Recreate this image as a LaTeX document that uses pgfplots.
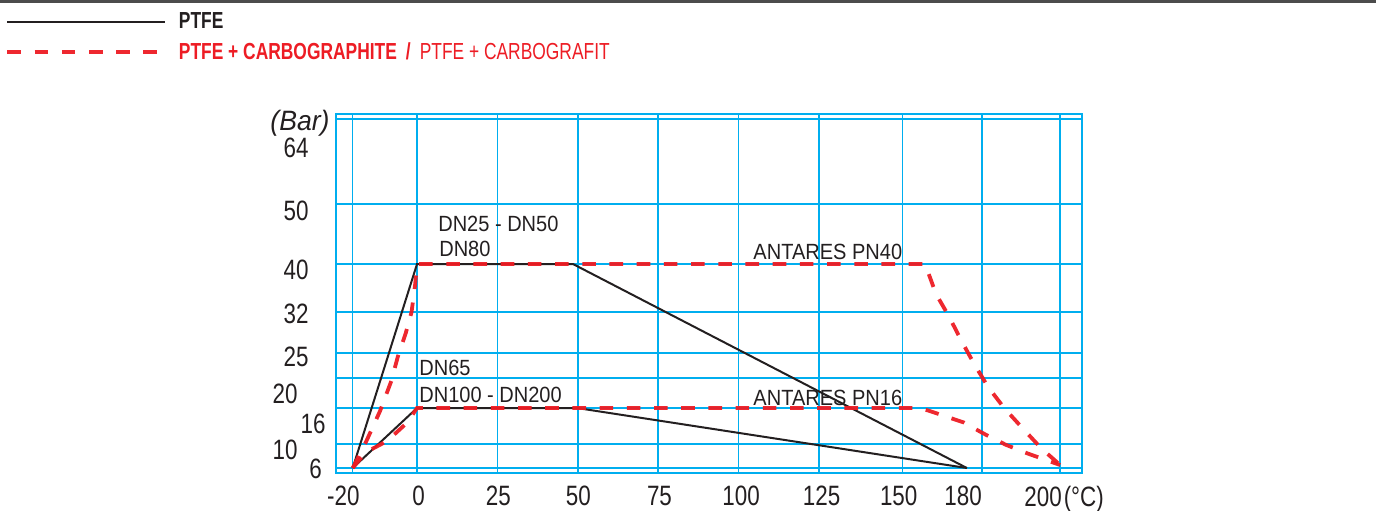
\documentclass[border=0pt]{standalone}
\usepackage{pgfplots}
\pgfplotsset{compat=1.18}
\usepackage{fontspec}
\setmainfont{Liberation Sans}
\newfontfamily\tickf[FakeStretch=0.8]{Liberation Sans}
\newfontfamily\annf[FakeStretch=0.91]{Liberation Sans}
\newfontfamily\barf[FakeStretch=0.95]{Liberation Sans}
\newfontfamily\legf[FakeStretch=0.75]{Liberation Sans}
\definecolor{gridc}{RGB}{0,174,239}
\definecolor{redc}{RGB}{237,28,36}
\definecolor{blk}{RGB}{35,31,32}
\begin{document}
\begin{tikzpicture}
\useasboundingbox (0,0) rectangle (688pt,255pt);
\draw[line width=1.4pt, color=black!70] (0,254.2pt) -- (688pt,254.2pt);
\begin{axis}[
  at={(168pt,18.5pt)}, anchor=south west,
  scale only axis, width=373pt, height=179.5pt,
  xmin=-25.2, xmax=206.8, ymin=5.17, ymax=65,
  clip=false,
  axis line style={draw=gridc, line width=0.75pt},
  major tick length=0pt,
  tick style={draw=none},
  xtick={-22.9,0.5,25.3,50.2,75.4,100.8,125.8,149.8,169.8,194.7},
  xticklabels={-20,0,25,50,75,100,125,150,180,{200\rlap{\kern1pt(°C)}}},
  ytick={5.83,9,13.33,18.33,24.5,31.67,39,48.83,59.33},
  yticklabels={{6\kern-8pt},{10\kern5.5pt},{16\kern-8.5pt},{20\kern5.5pt},25,32,40,50,64},
  extra x ticks={-20,0,25,50,75,100,125,151,175.7,200},
  extra x tick labels={},
  extra x tick style={grid=major, major tick length=0pt},
  extra y ticks={6,10,16,21,25.2,32,40,50,64.2},
  extra y tick labels={},
  extra y tick style={grid=major, major tick length=0pt},
  major grid style={draw=gridc, line width=0.75pt},
  xticklabel style={anchor=north, inner sep=0pt, yshift=-6.5pt, font=\tickf\fontsize{14}{16}\selectfont, text=blk},
  yticklabel style={anchor=east, inner sep=0pt, xshift=-13.5pt, font=\tickf\fontsize{14}{16}\selectfont, text=blk},
  legend cell align=left,
  legend image code/.code={\draw[#1] (0pt,0pt) -- (79pt,0pt);},
  legend style={at={(-0.4435,1.284)}, anchor=north west, draw=none, fill=none,
    inner sep=0pt, row sep=5.4pt, nodes={inner sep=0pt},
    font=\legf\fontsize{11.6}{13.5}\selectfont,
    /tikz/every odd column/.append style={column sep=5.8pt}},
]
% PTFE DN25-DN80
\addplot[draw=blk, line width=1pt] coordinates {(-20,6) (0,40) (48.5,40) (171,6)};
\addlegendentry{\textcolor{blk}{\textbf{PTFE}}}
% PTFE DN65-DN200
\addplot[draw=blk, line width=1pt, forget plot] coordinates {(-20,6) (0,16) (49.8,16) (171,6)};
% PTFE + carbographite PN40
\addplot[draw=redc, line width=1.9pt, dash pattern=on 6.8pt off 6.8pt, opacity=0.95] coordinates {
  (-20,6) (-16,10.2) (-11.5,15.5) (-8,20.5) (-6,24.5) (-3.5,28.5) (-1.7,32) (-0.6,36.5) (0,40)
  (158,40) (161.4,35) (165.5,31.2) (169.2,27.3) (173.3,23.3) (177.6,19.5) (182.6,16) (188.2,12.7) (194.1,9.3) (200,6.5)};
\addlegendentry{\textcolor{redc}{\textbf{PTFE + CARBOGRAPHITE}\hspace{4.5pt}\textbf{/}\hspace{4.5pt}PTFE + CARBOGRAFIT}}
% PTFE + carbographite PN16
\addplot[draw=redc, line width=1.9pt, dash pattern=on 6.8pt off 6.8pt, opacity=0.95, forget plot] coordinates {
  (-20,6) (-16,8.6) (-9.3,10.5) (-3,13.6) (0,16)
  (156.5,16) (160,15.4) (170,13.6) (176,11.8) (183,9.9) (190,8.4) (200,6.5)};
\begin{scope}[every node/.style={inner sep=0pt, anchor=base west, text=blk, font=\annf\fontsize{11}{13}\selectfont}]
\node at (axis cs:6.5,45.5) {DN25 - DN50};
\node at (axis cs:6.8,41.2) {DN80};
\node at (axis cs:104.5,40.67) {ANTARES PN40};
\node at (axis cs:0.6,21.5) {DN65};
\node at (axis cs:0.6,17) {DN100 - DN200};
\node at (axis cs:104.5,16.5) {ANTARES PN16};
\node[font=\barf\itshape\fontsize{14}{16}\selectfont] at (axis cs:-45.7,62.2) {(Bar)};
\end{scope}
\end{axis}
\end{tikzpicture}
\end{document}
